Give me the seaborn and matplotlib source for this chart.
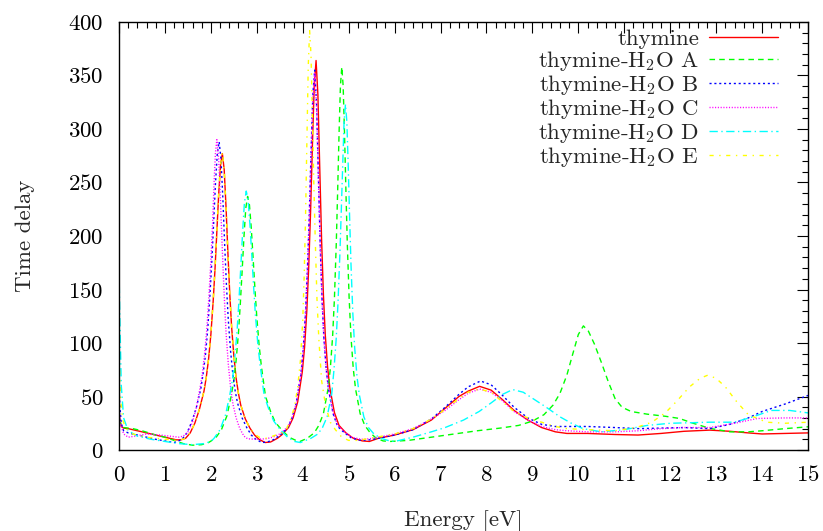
import matplotlib
matplotlib.use("Agg")
import matplotlib.pyplot as plt
import seaborn as sns
import pandas as pd
from matplotlib.ticker import MultipleLocator

# ---------------- data ----------------
thy_E = [0, 0.02, 0.05, 0.1, 0.2, 0.3, 0.5, 0.7, 0.9, 1.1, 1.25, 1.35, 1.45, 1.55, 1.65,
         1.75, 1.85, 1.9, 1.95, 2.0, 2.05, 2.09, 2.13, 2.17, 2.21, 2.25, 2.29, 2.33, 2.37,
         2.41, 2.45, 2.5, 2.55, 2.6, 2.65, 2.75, 2.85, 2.95, 3.05, 3.18, 3.3, 3.45, 3.54,
         3.69, 3.79, 3.89, 3.99, 4.04, 4.09, 4.13, 4.17, 4.21, 4.25, 4.29, 4.33, 4.37,
         4.41, 4.45, 4.49, 4.54, 4.59, 4.69, 4.79, 4.94, 5.1, 5.3, 5.45, 5.65, 6.0, 6.4,
         6.8, 7.1, 7.4, 7.6, 7.85, 8.1, 8.35, 8.6, 8.9, 9.2, 9.5, 9.75, 10.2, 10.8, 11.3,
         11.8, 12.3, 12.86, 13.3, 13.7, 14.0, 14.5, 15.0]
thy_V = [38, 28, 22, 20.5, 20, 19, 17, 15, 13, 11, 9.5, 9.5, 11, 16, 25,
         38, 55, 68, 85, 108, 139, 169, 204, 239, 266, 277, 262, 227, 185,
         147, 116, 88, 67, 53, 42, 29, 20.5, 14, 10, 7, 7.5, 11, 14,
         21, 30, 45, 73, 96, 131, 171, 222, 284, 340, 364, 332, 264,
         197, 145, 108, 78, 58, 35, 23, 16, 11, 8.5, 8, 11, 14, 19,
         28, 39, 50, 55, 59.5, 56, 47, 37, 28, 21, 17, 15.5, 15.5, 14.5, 14,
         15.5, 17.5, 18.6, 17.5, 16, 15, 15.5, 16]

A_E = [0, 0.02, 0.05, 0.1, 0.3, 0.5, 0.8, 1.0, 1.2, 1.4, 1.6, 1.8, 1.95, 2.1, 2.23,
       2.35, 2.44, 2.5, 2.55, 2.6, 2.64, 2.68, 2.72, 2.76, 2.8, 2.84, 2.88, 2.92, 2.96,
       3.0, 3.05, 3.1, 3.19, 3.3, 3.4, 3.54, 3.7, 3.85, 3.94, 4.1, 4.25, 4.35, 4.45,
       4.55, 4.6, 4.65, 4.69, 4.73, 4.76, 4.79, 4.82, 4.85, 4.88, 4.91, 4.94, 4.97,
       5.01, 5.05, 5.1, 5.15, 5.25, 5.35, 5.47, 5.6, 5.75, 5.9, 6.3, 6.8, 7.3, 7.8,
       8.3, 8.7, 9.0, 9.25, 9.45, 9.6, 9.75, 9.88, 10.0, 10.11, 10.22, 10.35, 10.5,
       10.65, 10.8, 10.95, 11.15, 11.5, 11.9, 12.2, 12.5, 12.86, 13.3, 13.7, 14.0,
       14.5, 15.0]
A_V = [38, 28, 22, 21, 20, 18, 14, 12, 9, 6, 4.5, 5, 7, 11, 19,
       32, 50, 65, 84, 109, 136, 167, 199, 226, 237, 229, 207, 179, 150,
       124, 98, 78, 50, 36, 26, 19, 12, 9, 8, 11, 16, 23, 34,
       57, 76, 106, 142, 193, 242, 295, 340, 358, 340, 295, 242, 193,
       142, 106, 76, 57, 34, 23, 16, 11, 8.5, 8, 9, 12, 15, 18,
       20.5, 23, 27, 33, 42, 53, 70, 90, 108, 116, 111, 99, 82,
       64, 48, 40, 36, 33.5, 31.5, 29.5, 25, 20.3, 17, 17, 18,
       20, 21.7]

B_E = [0, 0.02, 0.05, 0.1, 0.2, 0.4, 0.6, 0.8, 1.0, 1.2, 1.28, 1.38, 1.48, 1.58, 1.68,
       1.78, 1.83, 1.88, 1.93, 1.98, 2.02, 2.06, 2.1, 2.14, 2.18, 2.22, 2.26, 2.3, 2.34,
       2.38, 2.43, 2.48, 2.53, 2.58, 2.68, 2.78, 2.88, 2.98, 3.11, 3.23, 3.38, 3.51,
       3.66, 3.76, 3.86, 3.96, 4.01, 4.06, 4.1, 4.14, 4.18, 4.22, 4.26, 4.3, 4.34, 4.38,
       4.42, 4.46, 4.51, 4.56, 4.66, 4.76, 4.91, 5.07, 5.27, 5.45, 5.65, 6.0, 6.4, 6.8,
       7.1, 7.4, 7.6, 7.87, 8.1, 8.35, 8.6, 8.9, 9.2, 9.5, 9.75, 10.2, 10.8, 11.3, 11.8,
       12.3, 12.86, 13.3, 13.7, 14.0, 14.5, 15.0]
B_V = [60, 40, 25, 18, 16, 14, 12, 10, 8.5, 7, 8, 10.5, 16, 26, 39,
       57, 71, 88, 112, 145, 176, 212, 249, 277, 288, 272, 236, 192, 153,
       121, 92, 70, 55, 44, 30, 21, 14, 10, 7, 7.5, 10, 14,
       20, 29, 44, 71, 94, 128, 167, 216, 277, 332, 355, 324, 257, 192,
       141, 105, 76, 57, 34, 22, 16, 11, 9, 9.5, 11, 14, 19, 29,
       40, 52, 59, 64.5, 61, 51, 40, 30, 24, 22, 22, 22, 21, 20, 20.5,
       21, 20, 24, 30, 36, 43, 51]

C_E = [0, 0.03, 0.1, 0.2, 0.35, 0.6, 0.9, 1.2, 1.3, 1.4, 1.5, 1.6, 1.68, 1.76, 1.81,
       1.86, 1.91, 1.96, 2.0, 2.04, 2.07, 2.1, 2.13, 2.17, 2.21, 2.25, 2.29, 2.33, 2.38,
       2.43, 2.48, 2.55, 2.63, 2.72, 2.8, 3.0, 3.2, 3.35, 3.5, 3.66, 3.76, 3.86, 3.96,
       4.01, 4.06, 4.1, 4.14, 4.18, 4.22, 4.26, 4.3, 4.34, 4.38, 4.42, 4.46, 4.51, 4.56,
       4.66, 4.76, 4.91, 5.07, 5.27, 5.45, 5.65, 6.0, 6.4, 6.8, 7.1, 7.4, 7.6, 7.85,
       8.1, 8.35, 8.6, 8.9, 9.2, 9.5, 9.75, 10.2, 10.8, 11.3, 11.8, 12.3, 12.86, 13.4,
       13.9, 14.5, 15.0]
C_V = [40, 25, 15, 12, 13, 15, 14, 12.5, 12, 13, 17, 26, 39, 57, 70,
       88, 112, 145, 177, 214, 250, 278, 290, 272, 232, 186, 145, 110, 80,
       58, 43, 30, 20, 13, 10.5, 10, 10.5, 12, 15, 21, 29, 44, 71,
       94, 128, 166, 214, 275, 329, 352, 321, 255, 190, 140, 104, 76, 57,
       35, 23, 17, 12, 10, 10.5, 12, 15, 20, 29, 37, 47, 53, 57,
       54, 46, 36, 28, 22, 19, 18, 17, 17, 18, 20, 21, 21, 25,
       29.5, 30, 30]

D_E = [0, 0.02, 0.05, 0.1, 0.2, 0.4, 0.7, 1.0, 1.3, 1.6, 1.85, 2.0, 2.07, 2.2, 2.32,
       2.41, 2.47, 2.52, 2.57, 2.61, 2.65, 2.69, 2.73, 2.77, 2.81, 2.85, 2.89, 2.93,
       2.97, 3.02, 3.07, 3.16, 3.27, 3.37, 3.51, 3.67, 3.82, 3.95, 4.18, 4.33, 4.43,
       4.53, 4.63, 4.68, 4.73, 4.77, 4.81, 4.84, 4.87, 4.9, 4.93, 4.96, 4.99, 5.02,
       5.05, 5.09, 5.13, 5.18, 5.23, 5.33, 5.43, 5.55, 5.7, 5.85, 6.0, 6.4, 6.8, 7.1,
       7.5, 7.84, 8.1, 8.35, 8.57, 8.8, 9.05, 9.3, 9.6, 9.85, 10.1, 10.5, 11.0, 11.5,
       12.0, 12.86, 13.4, 13.8, 14.2, 14.6, 15.0]
D_V = [170, 120, 60, 30, 18, 13, 10, 8, 6, 5, 6, 8, 11, 19, 33,
       51, 66, 86, 111, 139, 170, 203, 231, 242, 234, 211, 183, 153,
       126, 100, 80, 51, 37, 27, 19, 12, 8, 7, 11, 15, 21,
       31, 52, 75, 105, 140, 185, 225, 266, 307, 323, 307, 266, 218,
       174, 128, 96, 69, 52, 31, 21, 15, 11, 9, 8, 12, 17, 21,
       28, 36, 44, 52, 56.5, 54, 47, 40, 31, 25, 20, 17, 19, 23,
       25, 26, 26, 31, 37, 37, 34.7]

E_E = [0, 0.03, 0.08, 0.15, 0.3, 0.6, 1.0, 1.25, 1.35, 1.45, 1.55, 1.65, 1.75, 1.85,
       1.9, 1.95, 2.0, 2.05, 2.09, 2.13, 2.17, 2.21, 2.25, 2.29, 2.33, 2.37, 2.41, 2.45,
       2.5, 2.55, 2.6, 2.65, 2.75, 2.85, 2.95, 3.05, 3.2, 3.35, 3.55, 3.65, 3.73, 3.82,
       3.89, 3.95, 4.0, 4.03, 4.06, 4.09, 4.12, 4.15, 4.18, 4.21, 4.24, 4.27, 4.31,
       4.35, 4.41, 4.5, 4.6, 4.71, 4.85, 5.0, 5.2, 5.6, 6.0, 6.4, 6.8, 7.1, 7.4, 7.6,
       7.85, 8.1, 8.35, 8.6, 8.9, 9.2, 9.5, 9.75, 10.2, 10.8, 11.26, 11.6, 11.9, 12.15,
       12.42, 12.65, 12.82, 13.0, 13.2, 13.45, 13.7, 14.1, 14.5, 15.0]
E_V = [90, 50, 28, 20, 15, 12, 10, 9, 9.5, 11, 16, 25, 38, 55,
       68, 85, 108, 139, 169, 204, 239, 266, 278, 262, 227, 185, 147, 116,
       88, 67, 53, 42, 29, 20.5, 15, 12, 11, 13, 16, 20, 28, 40,
       59, 84, 121, 161, 216, 288, 359, 392, 369, 314, 251, 200, 141,
       104, 65, 41, 26, 19, 12, 9, 9, 12, 15, 20, 29, 38, 48, 54,
       57, 54, 45, 36, 30, 26, 22, 20, 19, 18, 21, 26, 35, 46,
       59, 67, 70, 67, 59, 45, 33, 26, 25, 26]

labels = ["thymine", r"thymine-H$_2$O A", r"thymine-H$_2$O B",
          r"thymine-H$_2$O C", r"thymine-H$_2$O D", r"thymine-H$_2$O E"]
x_ticks = list(range(0, 16))
y_ticks = list(range(0, 401, 50))

# ---------------- styling ----------------
sns.set_theme(style="white")
plt.rcParams["font.family"] = ["cmr10", "DejaVu Serif"]
plt.rcParams["mathtext.fontset"] = "cm"
plt.rcParams["axes.formatter.use_mathtext"] = True
plt.rcParams["axes.unicode_minus"] = False

FS = 16.5
fig = plt.figure(figsize=(8.23, 5.31), dpi=100)
ax = fig.add_axes([0.1446, 0.1525, 0.8372, 0.8061])

series = [
    (thy_E, thy_V, "#ff0000", "-"),
    (A_E, A_V, "#00ff00", (0, (4, 3))),
    (B_E, B_V, "#0000ff", (0, (1.5, 2))),
    (C_E, C_V, "#ff00ff", (0, (0.8, 1.2))),
    (D_E, D_V, "#00ffff", (0, (6, 2.5, 1, 2.5))),
    (E_E, E_V, "#ffff00", (0, (3, 4, 1, 4))),
]

for (ex, vy, col, ls), lab in zip(series, labels):
    df = pd.DataFrame({"E": ex, "V": vy})
    sns.lineplot(data=df, x="E", y="V", ax=ax, color=col, linestyle=ls,
                 linewidth=1.0, label=lab, estimator=None, sort=False)

ax.set_xlim(0, 15)
ax.set_ylim(0, 400)
ax.set_xticks(x_ticks)
ax.set_yticks(y_ticks)
ax.xaxis.set_minor_locator(MultipleLocator(0.2))
ax.yaxis.set_minor_locator(MultipleLocator(10))
ax.tick_params(which="both", direction="in", top=True, right=True,
               labelsize=FS, colors="black", width=0.8)
ax.tick_params(which="major", length=8, pad=11)
ax.tick_params(which="minor", length=4)
for s in ax.spines.values():
    s.set_color("black")
    s.set_linewidth(1.0)

ax.set_xlabel("Energy [eV]", fontsize=FS, labelpad=18)
ax.set_ylabel("Time delay", fontsize=FS, labelpad=24)

leg = ax.legend(loc="upper right", bbox_to_anchor=(0.9565, 0.984), frameon=False,
                markerfirst=False, fontsize=FS, handlelength=3.0, handletextpad=0.45,
                labelspacing=0.0, borderaxespad=0, borderpad=0)

fig.savefig("out.png", dpi=100)
